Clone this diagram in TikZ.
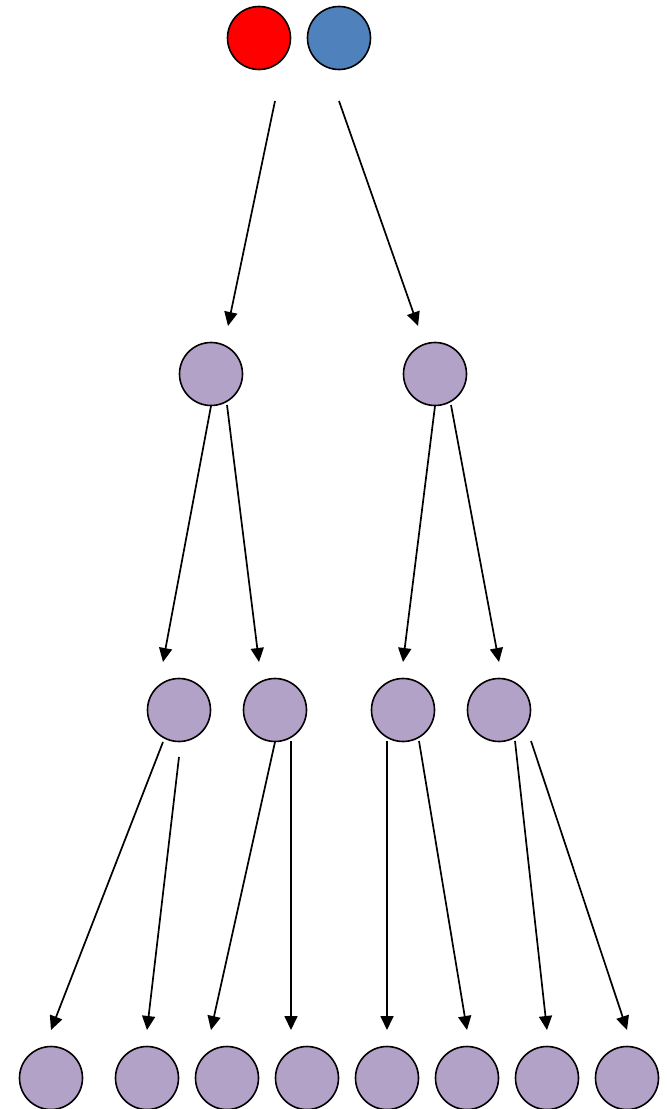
\documentclass[tikz,border=0pt]{standalone}
\usetikzlibrary{arrows.meta}
\definecolor{nodepurple}{HTML}{B3A2C7}
\definecolor{nodeblue}{HTML}{4F81BD}
\definecolor{nodered}{HTML}{FF0000}
\begin{document}
\begin{tikzpicture}[x=1pt,y=-1pt,
  dot/.style={circle,draw=black,line width=1.6pt,minimum size=63pt,inner sep=0pt,fill=nodepurple},
  arr/.style={draw=black,line width=1.7pt,-{Triangle[length=14pt,width=13pt]}}]
\useasboundingbox (0,0) rectangle (667,1109);
\node[dot,fill=nodered] (r) at (259,38) {};
\node[dot,fill=nodeblue] (b) at (339,38) {};
\node[dot] (m1) at (211,374) {};
\node[dot] (m2) at (435,374) {};
\node[dot] (t1) at (179,710) {};
\node[dot] (t2) at (275,710) {};
\node[dot] (t3) at (403,710) {};
\node[dot] (t4) at (499,710) {};
\foreach \i/\x in {1/51,2/147,3/227,4/307,5/387,6/467,7/547,8/627}
  \node[dot] (l\i) at (\x,1078) {};
% arrow endpoints
\coordinate (a1s) at (275,101); \coordinate (a1e) at (228,326);
\coordinate (a2s) at (339,101); \coordinate (a2e) at (418,326);
\coordinate (a3s) at (211,406); \coordinate (a3e) at (163,662);
\coordinate (a4s) at (227,405); \coordinate (a4e) at (259,662);
\coordinate (a5s) at (435,406); \coordinate (a5e) at (403,662);
\coordinate (a6s) at (451,405); \coordinate (a6e) at (499,662);
\coordinate (a7s) at (163,742); \coordinate (a7e) at (51,1030);
\coordinate (a8s) at (179,757); \coordinate (a8e) at (147,1030);
\coordinate (a9s) at (275,742); \coordinate (a9e) at (211,1030);
\coordinate (a10s) at (291,741); \coordinate (a10e) at (291,1030);
\coordinate (a11s) at (387,741); \coordinate (a11e) at (387,1030);
\coordinate (a12s) at (419,741); \coordinate (a12e) at (467,1030);
\coordinate (a13s) at (515,741); \coordinate (a13e) at (547,1030);
\coordinate (a14s) at (531,741); \coordinate (a14e) at (627,1030);
\foreach \k in {1,...,14}
  \draw[arr] (a\k s) -- (a\k e);
\end{tikzpicture}
\end{document}
